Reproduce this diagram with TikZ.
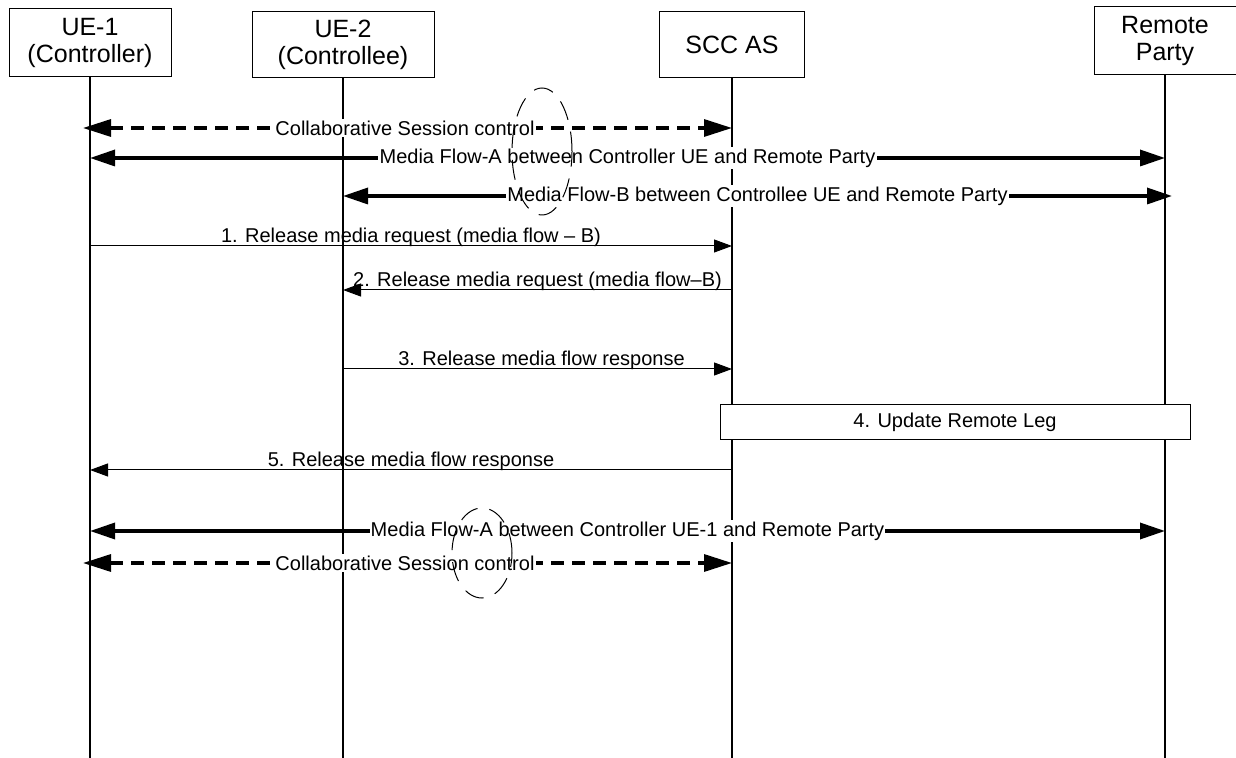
\documentclass[tikz,border=0pt]{standalone}
\usepackage{fontspec}
\setmainfont{Liberation Sans}
\usetikzlibrary{arrows.meta, positioning, calc, shapes.geometric}

\tikzset{
  entity/.style={draw, line width=0.5pt, fill=white, align=center, inner sep=0pt,
    font=\fontsize{12.5}{13.5}\selectfont},
  lifeline/.style={line width=0.8pt},
  ctrlmsg/.style={line width=1.6pt, dash pattern=on 6.5pt off 4pt, shorten <=-3.5pt,
    {Triangle[length=14pt,width=8.5pt]}-{Triangle[length=14pt,width=8.5pt]}},
  flowmsg/.style={line width=1.7pt,
    {Triangle[length=12.5pt,width=8pt]}-{Triangle[length=12.5pt,width=8pt]}},
  sigmsg/.style={line width=0.5pt, -{Triangle[length=9pt,width=6.5pt]}},
  onlabel/.style={fill=white, inner sep=0.6pt, font=\fontsize{10}{12}\selectfont},
  siglabel/.style={inner sep=0pt, anchor=base, yshift=1.5pt, font=\fontsize{10}{12}\selectfont},
  grouping/.style={draw, ellipse, line width=0.5pt, dash pattern=on 10pt off 6pt, inner sep=0pt},
}

\begin{document}
\begin{tikzpicture}[x=0.5pt, y=-0.5pt]
  \useasboundingbox (0,0) rectangle (1236,758);

  % entities
  \node[entity, minimum width=81pt, minimum height=34pt] (ue1) at (90,43) {UE-1\\(Controller)};
  \node[entity, minimum width=91pt, minimum height=33pt] (ue2) at (343,45) {UE-2\\(Controllee)};
  \node[entity, minimum width=72.5pt, minimum height=33pt] (scc) at (732,44.5) {SCC AS};
  \node[entity, minimum width=71pt, minimum height=34pt] (rp) at (1165,41) {Remote\\Party};

  % rows
  \coordinate (bottom) at (0,758);
  \coordinate (c1) at (0,128);
  \coordinate (fa1) at (0,158);
  \coordinate (fb1) at (0,196);
  \coordinate (m1) at (0,246);
  \coordinate (m2) at (0,290);
  \coordinate (m3) at (0,369);
  \coordinate (m5) at (0,470);
  \coordinate (fa2) at (0,531);
  \coordinate (c2) at (0,563);
  \coordinate (rpend) at (1172,196);

  % lifelines
  \draw[lifeline] (ue1.south) -- (ue1.south |- bottom);
  \draw[lifeline] (ue2.south) -- (ue2.south |- bottom);
  \draw[lifeline] (scc.south) -- (scc.south |- bottom);
  \draw[lifeline] (rp.south) -- (rp.south |- bottom);

  % sessions before
  \draw[ctrlmsg] (ue1 |- c1) -- node[onlabel, xshift=-3pt] (lc1) {Collaborative Session control} (scc |- c1);
  \draw[flowmsg] (ue1 |- fa1) -- node[onlabel] (lfa1) {Media Flow-A between Controller UE and Remote Party} (rp |- fa1);
  \draw[flowmsg] (ue2 |- fb1) -- node[onlabel] (lfb1) {Media Flow-B between Controllee UE and Remote Party} (rpend);

  % signalling
  \draw[sigmsg] (ue1 |- m1) -- node[siglabel] (l1) {1. Release media request (media flow \textendash\ B)} (scc |- m1);
  \draw[sigmsg] (scc |- m2) -- node[siglabel] (l2) {2. Release media request (media flow\textendash B)} (ue2 |- m2);
  \draw[sigmsg] (ue2 |- m3) -- node[siglabel, xshift=2pt] (l3) {3. Release media flow response} (scc |- m3);
  \node[draw, line width=0.5pt, fill=white, minimum width=235pt, minimum height=17.5pt,
    font=\fontsize{10}{12}\selectfont] (upd) at (955,422.5) {4. Update Remote Leg};
  \draw[sigmsg] (scc |- m5) -- node[siglabel] (l5) {5. Release media flow response} (ue1 |- m5);

  % sessions after
  \draw[flowmsg] (ue1 |- fa2) -- node[onlabel] (lfa2) {Media Flow-A between Controller UE-1 and Remote Party} (rp |- fa2);
  \draw[ctrlmsg] (ue1 |- c2) -- node[onlabel, xshift=-3pt] (lc2) {Collaborative Session control} (scc |- c2);

  % groupings
  \node[grouping, minimum width=30pt, minimum height=63.5pt] (g1) at (542,151.5) {};
  \node[grouping, minimum width=30pt, minimum height=45pt] (g2) at (482,553) {};
\end{tikzpicture}
\end{document}
